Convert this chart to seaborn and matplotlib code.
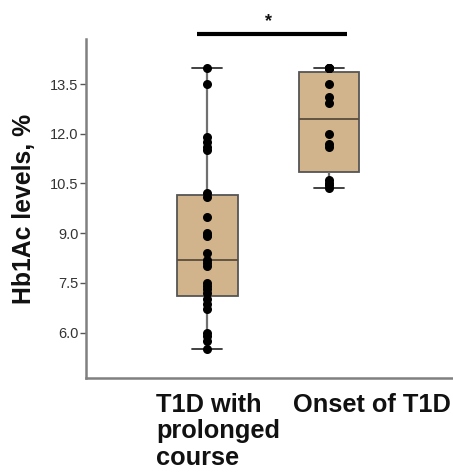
import matplotlib
matplotlib.use('Agg')
import pandas as pd
import matplotlib.pyplot as plt
import matplotlib.transforms as mtransforms
import seaborn as sns

# HbA1c values (%)
prolonged = [5.5, 5.75, 5.9, 6.0, 6.7, 6.85, 7.0, 7.2, 7.3, 7.4, 7.5,
             8.0, 8.1, 8.2, 8.4, 8.9, 8.95, 9.0, 9.5, 10.1, 10.2,
             11.5, 11.6, 11.75, 11.9, 13.5, 14.0]
onset = [10.35, 10.45, 10.5, 10.6, 11.6, 11.7, 12.0, 12.92, 13.1, 13.5,
         14.0, 14.0, 14.0, 14.0]

groups = ["T1D with\nprolonged\ncourse", "Onset of T1D"]
yticks = [6.0, 7.5, 9.0, 10.5, 12.0, 13.5]

df = pd.DataFrame({
    "group": [groups[0]] * len(prolonged) + [groups[1]] * len(onset),
    "value": prolonged + onset,
})

sns.set_style("ticks")
plt.rcParams['font.family'] = ['Liberation Sans', 'DejaVu Sans']

fig = plt.figure(figsize=(4.53, 4.73), dpi=100)
ax = fig.add_axes([0.189, 0.201, 0.811, 0.7165])

sns.boxplot(data=df, x="group", y="value", order=groups, width=0.5,
            color="#D2B48C", saturation=1, linecolor="#555555", linewidth=1.3,
            fliersize=0, whis=3.0, ax=ax,
            medianprops=dict(color="#5a4c3c", linewidth=1.3),
            whiskerprops=dict(color="#707070", linewidth=1.6),
            capprops=dict(color="#333333", linewidth=1.3))
sns.stripplot(data=df, x="group", y="value", order=groups, jitter=False,
              color="black", size=6.5, ax=ax, zorder=5)

ax.set_xlim(-1.0, 2.02)
ax.set_ylim(4.63, 14.86)
ax.set_yticks(yticks)
ax.set_yticklabels([f"{t:.1f}" for t in yticks], fontsize=10.5, color="#333333")
ax.tick_params(axis="y", length=4, width=1, color="#555555", pad=1)
ax.tick_params(axis="x", length=0, pad=11)

# category labels, left aligned like the source
ax.set_xticks([0, 1])
ax.set_xticklabels(groups, fontsize=18.3, fontweight="bold", ha="left",
                   linespacing=1.12, color="#111111")
for lab, dx in zip(ax.get_xticklabels(), [-0.51, -0.36]):
    lab.set_transform(lab.get_transform() +
                      mtransforms.ScaledTranslation(dx, 0, fig.dpi_scale_trans))

ax.set_xlabel("")
ax.set_ylabel("Hb1Ac levels, %", fontsize=17.8, fontweight="bold", color="#111111")
ax.yaxis.set_label_coords(-0.136, 0.5)

for side in ["top", "right"]:
    ax.spines[side].set_visible(False)
for side in ["left", "bottom"]:
    ax.spines[side].set_color("#808080")
    ax.spines[side].set_linewidth(1.8)

# significance bar
ax.plot([-0.083, 1.149], [15.0, 15.0], color="black", linewidth=3, clip_on=False,
        solid_capstyle="butt")
ax.text(0.5, 15.4, "*", ha="center", va="center", fontsize=13, fontweight="bold",
        color="#111111", clip_on=False)

fig.savefig("out.png", dpi=100)
